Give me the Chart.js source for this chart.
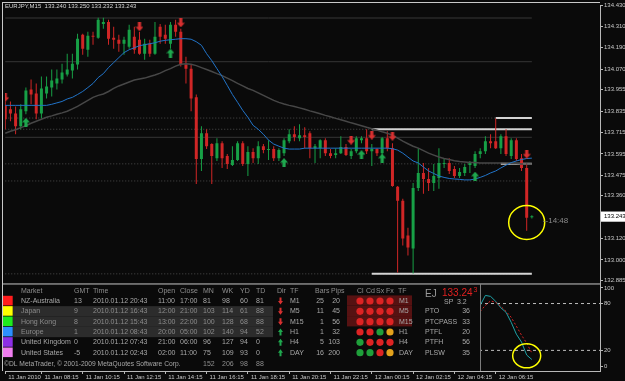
<!DOCTYPE html>
<html>
<head>
<meta charset="utf-8">
<script src="https://cdn.jsdelivr.net/npm/chart.js@4.4.1/dist/chart.umd.min.js"></script>
<style>
  html, body { margin: 0; padding: 0; background: #0a0a0a; }
  canvas { display: block; }
</style>
</head>
<body>
<canvas id="chart" width="625" height="381"></canvas>
<script>
// EURJPY M15, one bar per 15 minutes from 11 Jan 06:30
const symbol = "EURJPY,M15";
const opens = [133.867,133.845,133.822,133.750,133.834,133.956,133.934,133.822,133.934,133.967,
  133.990,134.012,134.040,134.062,134.096,134.263,134.179,134.257,134.246,134.324,
  134.335,134.246,134.235,134.213,134.196,134.252,134.235,134.157,134.213,134.157,
  134.308,134.263,134.213,134.319,134.280,134.096,134.073,133.912,133.566,133.711,
  133.650,133.571,133.655,133.583,133.532,133.560,133.655,133.538,133.605,133.571,
  133.638,133.616,133.622,133.571,133.599,133.666,133.705,133.683,133.700,133.711,
  133.627,133.627,133.672,133.599,133.588,133.599,133.633,133.583,133.610,133.672,
  133.683,133.610,133.622,133.599,133.683,133.627,133.410,133.332,133.137,133.064,
  133.404,133.488,133.454,133.432,133.460,133.538,133.544,133.510,133.471,133.488,
  133.532,133.527,133.594,133.610,133.666,133.666,133.627,133.694,133.583,133.672,
  133.571,133.516,133.240];
const highs = [133.889,133.889,133.861,133.873,133.967,134.012,133.990,134.029,134.029,134.068,
  134.068,134.101,134.157,134.157,134.269,134.269,134.280,134.280,134.358,134.358,
  134.347,134.308,134.263,134.252,134.319,134.308,134.280,134.241,134.235,134.335,
  134.324,134.319,134.335,134.347,134.297,134.140,134.096,133.928,133.750,133.733,
  133.655,133.683,133.666,133.594,133.638,133.666,133.666,133.638,133.627,133.666,
  133.650,133.672,133.638,133.627,133.683,133.733,133.750,133.761,133.744,133.722,
  133.650,133.677,133.683,133.622,133.627,133.694,133.650,133.622,133.694,133.694,
  133.733,133.650,133.627,133.689,133.722,133.655,133.415,133.343,133.181,133.432,
  133.627,133.544,133.516,133.538,133.627,133.571,133.571,133.527,133.516,133.538,
  133.555,133.610,133.627,133.694,133.705,133.794,133.705,133.733,133.683,133.683,
  133.594,133.544,133.250];
const lows = [133.733,133.778,133.705,133.733,133.817,133.873,133.789,133.794,133.906,133.917,
  133.956,133.990,134.029,134.018,134.068,134.151,134.140,134.207,134.241,134.297,
  134.207,134.185,134.168,134.151,134.185,134.157,134.151,134.123,134.140,134.151,
  134.213,134.213,134.185,134.252,134.085,133.990,133.834,133.426,133.499,133.622,
  133.426,133.555,133.516,133.510,133.527,133.555,133.527,133.471,133.544,133.538,
  133.599,133.560,133.555,133.555,133.583,133.655,133.666,133.666,133.627,133.571,
  133.544,133.571,133.583,133.571,133.571,133.594,133.583,133.566,133.599,133.655,
  133.594,133.527,133.583,133.583,133.610,133.410,132.930,133.081,133.025,132.924,
  133.387,133.371,133.387,133.387,133.399,133.516,133.482,133.460,133.460,133.471,
  133.488,133.516,133.571,133.594,133.627,133.622,133.594,133.583,133.566,133.555,
  133.499,133.164,133.232];
const closes = [133.789,133.822,133.750,133.845,133.951,133.928,133.822,133.962,133.973,134.006,
  134.018,134.051,134.068,134.101,134.241,134.185,134.257,134.252,134.347,134.335,
  134.241,134.235,134.213,134.235,134.291,134.179,134.157,134.213,134.157,134.252,
  134.252,134.241,134.319,134.280,134.096,134.073,133.906,133.566,133.711,133.638,
  133.583,133.655,133.571,133.538,133.560,133.655,133.538,133.605,133.571,133.638,
  133.616,133.622,133.571,133.616,133.672,133.705,133.689,133.700,133.689,133.627,
  133.638,133.672,133.599,133.583,133.599,133.633,133.588,133.610,133.683,133.683,
  133.610,133.622,133.599,133.683,133.627,133.415,133.332,133.120,133.070,133.404,
  133.488,133.454,133.432,133.471,133.544,133.544,133.499,133.471,133.493,133.521,
  133.544,133.594,133.610,133.666,133.655,133.627,133.694,133.594,133.672,133.566,
  133.516,133.237,133.243];

// moving averages (blue = fast, grey = slow)
const maFast = [133.867,133.867,133.867,133.867,133.867,133.867,133.867,133.867,133.867,133.873,
  133.881,133.889,133.903,133.912,133.928,133.945,133.967,133.990,134.023,134.045,
  134.079,134.107,134.135,134.163,134.179,134.190,134.202,134.207,134.213,134.218,
  134.227,134.232,134.235,134.238,134.241,134.241,134.238,134.224,134.204,134.157,
  134.118,134.073,134.029,133.979,133.928,133.884,133.839,133.800,133.755,133.733,
  133.705,133.672,133.650,133.638,133.627,133.622,133.622,133.622,133.627,133.627,
  133.627,133.627,133.627,133.627,133.627,133.627,133.627,133.627,133.627,133.627,
  133.627,133.627,133.627,133.627,133.627,133.624,133.616,133.599,133.577,133.555,
  133.544,133.521,133.499,133.485,133.471,133.463,133.457,133.454,133.452,133.449,
  133.449,133.454,133.463,133.474,133.488,133.499,133.516,133.532,133.546,133.555,
  133.563,133.569,133.571];
const maSlow = [133.711,133.722,133.730,133.742,133.753,133.767,133.778,133.789,133.800,133.808,
  133.817,133.825,133.834,133.847,133.861,133.878,133.895,133.912,133.923,133.931,
  133.945,133.962,133.976,133.987,133.998,134.009,134.015,134.020,134.029,134.037,
  134.048,134.062,134.073,134.087,134.098,134.101,134.098,134.090,134.079,134.068,
  134.057,134.045,134.034,134.020,134.006,133.990,133.976,133.962,133.951,133.937,
  133.923,133.909,133.895,133.884,133.875,133.867,133.861,133.853,133.845,133.836,
  133.828,133.820,133.811,133.803,133.794,133.786,133.778,133.769,133.761,133.753,
  133.744,133.736,133.728,133.719,133.711,133.700,133.683,133.666,133.652,133.638,
  133.627,133.613,133.599,133.588,133.577,133.569,133.563,133.557,133.552,133.549,
  133.546,133.546,133.544,133.544,133.544,133.544,133.544,133.544,133.541,133.541,
  133.538,133.538,133.538];

// signal arrows
const sellIdx = [0, 26, 34, 67, 71, 75, 101];
const sellPrice = [133.912, 134.308, 134.330, 133.672, 133.700, 133.694, 133.594];
const buyIdx = [4, 32, 54, 69, 73, 91];
const buyPrice = [133.772, 134.160, 133.546, 133.591, 133.571, 133.470];

// horizontal levels, and the bar where a level turns into a solid white line
const levelPrices = [134.357, 134.112, 133.796, 133.733, 133.688, 133.539, 133.443, 132.922];
const levelSolidFrom = [null, null, 95, 71, null, 96, null, 71];

// axes
const priceTicks = [134.430, 134.310, 134.190, 134.070, 133.955, 133.835, 133.715, 133.595,
  133.475, 133.360, 133.243, 133.120, 133.000, 132.885];
const timeTickIdx = [0, 7, 15, 23, 31, 39, 47, 55, 63, 71, 79, 87, 95];
const timeTickLabels = ["11 Jan 2010", "11 Jan 08:15", "11 Jan 10:15", "11 Jan 12:15", "11 Jan 14:15",
  "11 Jan 16:15", "11 Jan 18:15", "11 Jan 20:15", "11 Jan 22:15", "12 Jan 00:15", "12 Jan 02:15",
  "12 Jan 04:15", "12 Jan 06:15"];
const countdown = "14:48";

// stochastic sub window
const stochStart = 92;
const stochMain = [77.7, 90.4, 89.2, 82.8, 74.5, 68.8, 56.0, 40.8, 30.6, 14.0, 8.3];
const stochSignal = [70.0, 77.7, 83.4, 81.5, 76.4, 70.0, 62.4, 51.0, 39.5, 29.3, 16.6];
const stochLevels = [80, 20];
const stochTicks = [0, 20, 80, 100];

// session table
const markets = ["NZ-Australia", "Japan", "Hong Kong", "Europe", "United Kingdom", "United States"];
const gmtOffsets = [13, 9, 8, 1, 0, -5];
const localTimes = ["2010.01.12 20:43", "2010.01.12 16:43", "2010.01.12 15:43", "2010.01.12 08:43",
  "2010.01.12 07:43", "2010.01.12 02:43"];
const sessionOpens = ["11:00", "12:00", "13:00", "20:00", "21:00", "02:00"];
const sessionCloses = ["17:00", "21:00", "22:00", "05:00", "06:00", "11:00"];
const rangeMN = [81, 103, 100, 102, 96, 75];
const rangeWK = [98, 114, 128, 140, 127, 109];
const rangeYD = [60, 61, 68, 94, 94, 93];
const rangeTD = [81, 88, 88, 52, 0, 0];
const rangeTotals = [152, 206, 98, 88];
const activeSessions = [false, true, true, true, false, false];

const tfNames = ["M1", "M5", "M15", "H1", "H4", "DAY"];
const tfDir = [-1, -1, -1, 1, 1, 1];
const tfBars = [25, 11, 1, 1, 5, 16];
const tfPips = [20, 45, 56, 32, 103, 200];
const tfSignals = [["r","r","r","r"], ["r","r","r","r"], ["r","r","r","r"],
  ["r","r","g","o"], ["g","r","r","r"], ["g","g","r","o"]];
const statNames = ["PTO", "PTCPASS", "PTFL", "PTFH", "PLSW"];
const statValues = [36, 33, 20, 56, 35];
const spread = 3.2;

// ---- drawing ----
const BG = "#0a0a0a";
const RED = "#d02626";
const GREEN = "#17a046";
const AXIS = "#b8b8b8";
const FONT = "Liberation Sans";
const xMin = -0.05, xMax = 115.2;
const n = opens.length;
const idx = opens.map((_, i) => i);
const candleColor = idx.map(i => closes[i] >= opens[i] ? GREEN : RED);
const lastPrice = closes[n - 1];
const levelDotted = [false, false, true, true, false, true, true, true];

function arrowPath(g, cx, cy, w, h, down) {
  const s = down ? 1 : -1;
  const tail = cy - s * h / 2, tip = cy + s * h / 2, sh = w * 0.2;
  g.beginPath();
  g.moveTo(cx - sh, tail);
  g.lineTo(cx + sh, tail);
  g.lineTo(cx + sh, cy);
  g.lineTo(cx + w / 2, cy);
  g.lineTo(cx, tip);
  g.lineTo(cx - w / 2, cy);
  g.lineTo(cx - sh, cy);
  g.closePath();
}
function arrowImage(color, down) {
  const c = document.createElement("canvas");
  c.width = 8; c.height = 9;
  const g = c.getContext("2d");
  g.fillStyle = color;
  arrowPath(g, 4, 4.5, 8, 9, down);
  g.fill();
  return c;
}

const datasets = [];
levelPrices.forEach((p, k) => {
  datasets.push({
    type: "line", order: 10, data: [{x: 0, y: p}, {x: n - 1, y: p}],
    borderColor: levelDotted[k] ? "#4c4c4c" : "#363636", borderWidth: 1,
    borderDash: levelDotted[k] ? [1, 2] : [], pointRadius: 0
  });
  if (levelSolidFrom[k] !== null) {
    datasets.push({
      type: "line", order: 9, data: [{x: levelSolidFrom[k], y: p}, {x: n - 1, y: p}],
      borderColor: "#d4d4d4", borderWidth: 2, pointRadius: 0
    });
  }
});
datasets.push({
  type: "bar", order: 8, grouped: false, maxBarThickness: 1, inflateAmount: 0,
  data: idx.map(i => ({x: i, y: [lows[i], highs[i]]})), backgroundColor: candleColor
});
datasets.push({
  type: "bar", order: 7, grouped: false, maxBarThickness: 3, inflateAmount: 0, minBarLength: 1,
  data: idx.map(i => ({x: i, y: [opens[i], closes[i]]})), backgroundColor: candleColor
});
datasets.push({
  type: "line", order: 5, data: idx.map(i => ({x: i, y: maSlow[i]})),
  borderColor: "#474747", borderWidth: 1.5, pointRadius: 0
});
datasets.push({
  type: "line", order: 4, data: idx.map(i => ({x: i, y: maFast[i]})),
  borderColor: "#2274c8", borderWidth: 1, pointRadius: 0
});
datasets.push({
  type: "scatter", order: 2, data: sellIdx.map((v, k) => ({x: v, y: sellPrice[k]})),
  pointStyle: arrowImage("#d83030", true), pointRadius: 3
});
datasets.push({
  type: "scatter", order: 2, data: buyIdx.map((v, k) => ({x: v, y: buyPrice[k]})),
  pointStyle: arrowImage("#1fa84e", false), pointRadius: 3
});
stochLevels.forEach(v => datasets.push({
  type: "line", order: 3, yAxisID: "yOsc", data: [{x: xMin, y: v}, {x: xMax, y: v}],
  borderColor: "#bdbdbd", borderWidth: 1, borderDash: [3, 3], pointRadius: 0
}));
datasets.push({
  type: "line", order: 2, yAxisID: "yOsc",
  data: stochMain.map((v, k) => ({x: stochStart + k, y: v})),
  borderColor: "#1ea3a8", borderWidth: 1, pointRadius: 0
});
datasets.push({
  type: "line", order: 1, yAxisID: "yOsc",
  data: stochSignal.map((v, k) => ({x: stochStart + k, y: v})),
  borderColor: "#d42222", borderWidth: 1, borderDash: [2, 2], pointRadius: 0
});

function noPad(s) { s.paddingLeft = 0; s.paddingRight = 0; s.paddingTop = 0; s.paddingBottom = 0; }

const overlay = {
  id: "overlay",
  beforeDraw(chart) {
    const g = chart.ctx;
    g.save();
    g.fillStyle = BG;
    g.fillRect(0, 0, chart.width, chart.height);
    g.restore();
  },
  afterDatasetsDraw(chart) {
    const g = chart.ctx;
    const sx = chart.scales.x, sy = chart.scales.y, so = chart.scales.yOsc;
    const a = chart.chartArea;
    const split = sy.bottom;
    const text = (s, x, y, color, size, align) => {
      g.font = (size || 7) + 'px "' + FONT + '"';
      g.fillStyle = color;
      g.textAlign = align || "left";
      g.textBaseline = "middle";
      g.fillText(s, x, y);
    };
    g.save();

    // yellow marks
    g.strokeStyle = "#ffff00";
    g.lineWidth = 1.5;
    g.beginPath();
    g.ellipse(sx.getPixelForValue(101), sy.getPixelForValue(133.21), 18, 17, 0, 0, Math.PI * 2);
    g.stroke();
    text("--" + countdown, sx.getPixelForValue(n - 1) + 11, sy.getPixelForValue(133.22), "#8a8a8a", 8);

    // header
    text(symbol + "  " + [opens, highs, lows, closes].map(s => s[n - 1].toFixed(3)).join(" "),
      5, 6.5, "#d6d6d6", 6);

    // session table over the left of the sub window
    g.fillStyle = BG;
    g.fillRect(a.left, split + 1, 480.5 - a.left, a.bottom - split - 1);
    g.strokeStyle = "#7c7c7c";
    g.lineWidth = 1;
    g.beginPath(); g.moveTo(480.5, split + 1); g.lineTo(480.5, a.bottom); g.stroke();

    const rowY = k => 301 + k * 10.34;
    const headY = 290.7;
    const boxColors = ["#ff1c1c", "#ffff00", "#1eea1e", "#2c8fff", "#8d2ee6", "#f07ef0"];
    activeSessions.forEach((on, k) => {
      if (on) { g.fillStyle = "#2c2c2c"; g.fillRect(13, rowY(k) - 5.2, 260, 10.34); }
    });
    markets.forEach((m, k) => {
      g.fillStyle = boxColors[k];
      g.fillRect(3, rowY(k) - 5.2, 9.7, 9.6);
    });
    const cols = [21, 74, 93, 158, 180, 203, 222, 240, 256];
    ["Market", "GMT", "Time", "Open", "Close", "MN", "WK", "YD", "TD"].forEach((h, c) =>
      text(h, cols[c], headY, "#8e8e8e"));
    markets.forEach((m, k) => {
      const col = activeSessions[k] ? "#8c8c8c" : "#a8a8a8";
      const row = [m, String(gmtOffsets[k]), localTimes[k], sessionOpens[k], sessionCloses[k],
        String(rangeMN[k]), String(rangeWK[k]), String(rangeYD[k]), String(rangeTD[k])];
      row.forEach((s, c) => text(s, cols[c], rowY(k), col));
    });
    text("\u00A9DL MetaTrader, \u00A9 2001-2009 MetaQuotes Software Corp.", 4, 364.3, "#a8a8a8", 6.7);
    rangeTotals.forEach((v, c) => text(String(v), cols[5 + c], 364.3, "#8e8e8e"));

    // timeframe block
    [["Dir", 277], ["TF", 290], ["Bars", 315], ["Pips", 331], ["Cl", 357], ["Cd", 366],
     ["Sx", 376], ["Fx", 386], ["TF", 398]].forEach(([h, x]) => text(h, x, headY, "#8e8e8e"));
    const lightColors = {r: "#dd2323", g: "#1f9f3a", o: "#e3a21c"};
    tfNames.forEach((tf, k) => {
      const y = rowY(k);
      if (tfSignals[k].every(s => s === "r")) {
        g.fillStyle = "#561212";
        g.fillRect(347, y - 5.6, 65, 10.34);
      }
      g.fillStyle = tfDir[k] < 0 ? "#d83030" : "#1fa84e";
      arrowPath(g, 280.5, y, 5, 7, tfDir[k] < 0);
      g.fill();
      text(tf, 290, y, "#a8a8a8");
      text(String(tfBars[k]), 324, y, "#a8a8a8", 7, "right");
      text(String(tfPips[k]), 340, y, "#a8a8a8", 7, "right");
      tfSignals[k].forEach((s, c) => {
        g.fillStyle = lightColors[s];
        g.beginPath(); g.arc(360 + c * 10, y, 3.6, 0, Math.PI * 2); g.fill();
      });
      text(tf, 399, y, "#a8a8a8");
    });

    // price block
    text("EJ", 425, 294, "#9a9a9a", 10);
    const bid = lastPrice.toFixed(3);
    text(bid.slice(0, -1), 442, 293.5, "#e02020", 10);
    g.font = '10px "' + FONT + '"';
    const w = g.measureText(bid.slice(0, -1)).width;
    text(bid.slice(-1), 443 + w, 290, "#e02020", 7);
    text("SP", 444, 302, "#a8a8a8");
    text(spread.toFixed(1), 457, 302, "#a8a8a8");
    statNames.forEach((s, k) => {
      text(s, 425, rowY(k + 1), "#a8a8a8");
      text(String(statValues[k]), 470, rowY(k + 1), "#a8a8a8", 7, "right");
    });

    // yellow mark in the sub window
    g.strokeStyle = "#ffff00";
    g.lineWidth = 1.5;
    g.beginPath();
    g.ellipse(sx.getPixelForValue(101), so.getPixelForValue(13), 14, 12, 0, 0, Math.PI * 2);
    g.stroke();

    // window frames
    g.strokeStyle = "#c8c8c8";
    g.lineWidth = 1;
    g.beginPath();
    g.moveTo(2, 2.5); g.lineTo(a.right, 2.5);
    g.moveTo(2.5, 2); g.lineTo(2.5, a.bottom);
    g.moveTo(2, split + 0.5); g.lineTo(a.right, split + 0.5);
    g.stroke();
    g.restore();
  }
};

Chart.defaults.font.family = FONT;
new Chart(document.getElementById("chart"), {
  type: "bar",
  data: { datasets },
  options: {
    responsive: false,
    animation: false,
    events: [],
    layout: { padding: { left: 3, top: 3, right: 0, bottom: 0 } },
    plugins: { legend: { display: false }, tooltip: { enabled: false } },
    scales: {
      x: {
        type: "linear", min: xMin, max: xMax, offset: false,
        grid: { drawOnChartArea: false, tickLength: 3, color: AXIS, offset: false },
        border: { color: AXIS },
        ticks: {
          autoSkip: false, maxRotation: 0, minRotation: 0, align: "start", labelOffset: 3, padding: 0,
          color: "#c8c8c8", font: { size: 6 },
          callback: (v, k) => timeTickLabels[k]
        },
        afterBuildTicks: s => { s.ticks = timeTickIdx.map(v => ({ value: v })); },
        afterFit: s => { s.height = 10; noPad(s); }
      },
      y: {
        type: "linear", position: "right", stack: "win", stackWeight: 280,
        min: 132.868, max: 134.430,
        grid: { drawOnChartArea: false, tickLength: 3, color: AXIS },
        border: { color: AXIS },
        ticks: {
          padding: 1, font: { size: 6 },
          color: c => (c.tick && c.tick.value === lastPrice ? "#000000" : "#c8c8c8"),
          showLabelBackdrop: c => !!(c.tick && c.tick.value === lastPrice),
          backdropColor: "#ffffff",
          backdropPadding: { top: 1.5, bottom: 1.5, left: 3, right: 4 },
          callback: v => v.toFixed(3)
        },
        afterBuildTicks: s => { s.ticks = priceTicks.map(v => ({ value: v })); },
        afterFit: s => { s.width = 25; noPad(s); }
      },
      yOsc: {
        type: "linear", position: "right", stack: "win", stackWeight: 88,
        min: -6.4, max: 105.7,
        grid: { drawOnChartArea: false, tickLength: 3, color: AXIS },
        border: { color: AXIS },
        ticks: { padding: 1, font: { size: 6 }, color: "#c8c8c8", callback: v => String(v) },
        afterBuildTicks: s => { s.ticks = stochTicks.map(v => ({ value: v })); },
        afterFit: s => { s.width = 25; noPad(s); }
      }
    }
  },
  plugins: [overlay]
});
</script>
</body>
</html>
